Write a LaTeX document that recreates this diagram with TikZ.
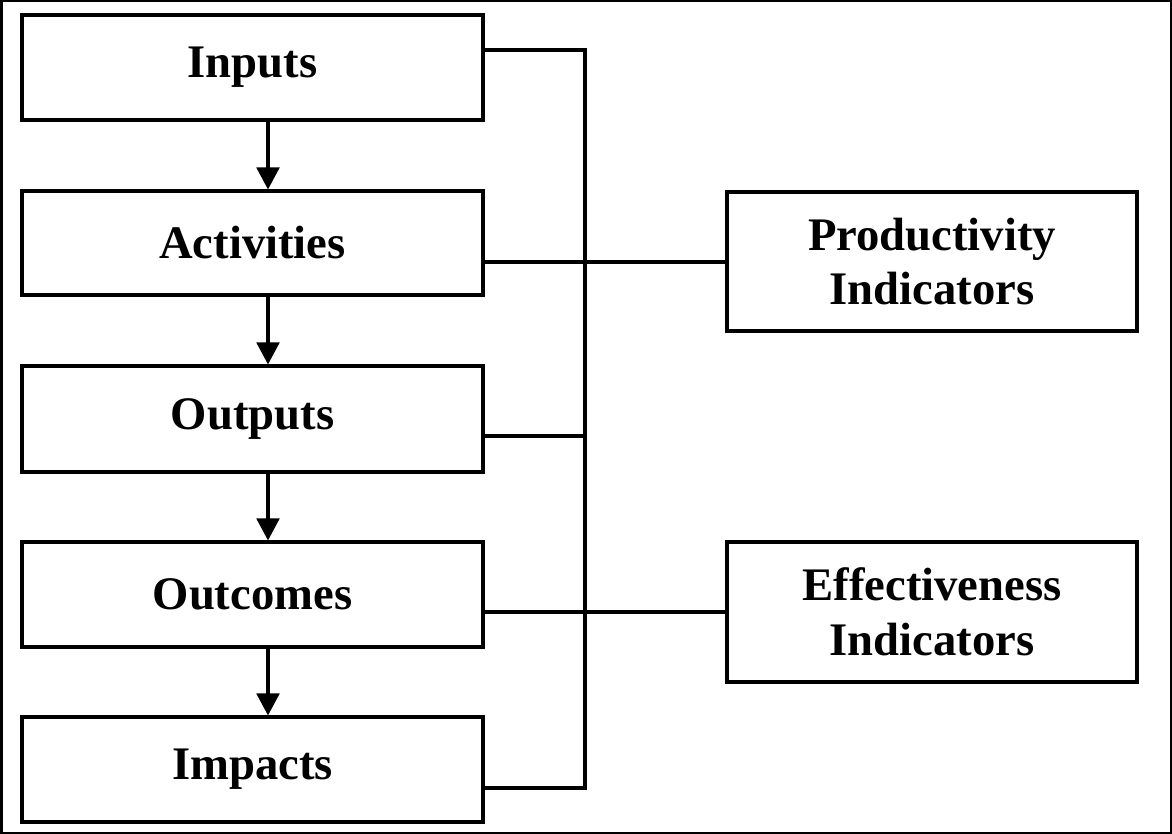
\documentclass[tikz,border=0pt]{standalone}
\usepackage{fontspec}
\setmainfont{Liberation Serif}
\usetikzlibrary{arrows.meta}
\tikzset{
  box/.style={draw, line width=2.3pt, inner sep=0pt, align=center,
    font=\fontsize{35}{41}\selectfont\bfseries},
  conn/.style={line width=2.3pt},
  arr/.style={line width=2.3pt, -{Triangle[width=17pt,length=16.5pt]}},
}
\begin{document}
\begin{tikzpicture}[x=0.75pt,y=-0.75pt]
\useasboundingbox (0,0) rectangle (1172,834);
\draw[line width=1.5pt] (1.5,1.5) rectangle (1170.5,832.5);
% left column
\node[box, minimum width=461*0.75pt, minimum height=105*0.75pt] (in)   at (252.5,67.5) {Inputs};
\node[box, minimum width=461*0.75pt, minimum height=104*0.75pt] (act)  at (252.5,243) {Activities};
\node[box, minimum width=461*0.75pt, minimum height=106*0.75pt] (outp) at (252.5,419) {Outputs};
\node[box, minimum width=461*0.75pt, minimum height=105*0.75pt] (outc) at (252.5,594.5) {Outcomes};
\node[box, minimum width=461*0.75pt, minimum height=105*0.75pt] (imp)  at (252.5,769.5) {Impacts};
% right column
\node[box, minimum width=410*0.75pt, minimum height=139*0.75pt] (prod) at (932,261.5) {Productivity\\Indicators};
\node[box, minimum width=410*0.75pt, minimum height=140*0.75pt] (eff)  at (932,612) {Effectiveness\\Indicators};
% helper coordinates
\coordinate (ax) at (268,0);
\coordinate (j1) at (585,50);
\coordinate (j2) at (585,262);
\coordinate (j3) at (585,436);
\coordinate (j4) at (585,612);
\coordinate (j5) at (585,788);
% arrows
\draw[arr] (in.south -| ax) -- (act.north -| ax);
\draw[arr] (act.south -| ax) -- (outp.north -| ax);
\draw[arr] (outp.south -| ax) -- (outc.north -| ax);
\draw[arr] (outc.south -| ax) -- (imp.north -| ax);
% bus connectors
\draw[conn, line join=miter] (in.east |- j1) -- (j1) -- (j5) -- (imp.east |- j5);
\draw[conn] (act.east |- j2) -- (prod.west |- j2);
\draw[conn] (outp.east |- j3) -- (j3);
\draw[conn] (outc.east |- j4) -- (eff.west |- j4);
\end{tikzpicture}
\end{document}
